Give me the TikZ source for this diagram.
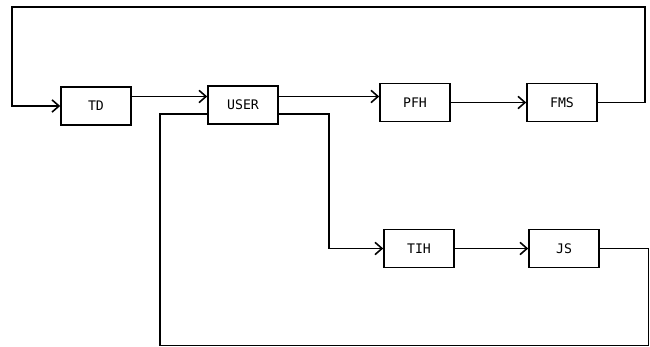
\documentclass[tikz,border=0pt]{standalone}
\usepackage{fontspec}
\newfontfamily\boxfont{DejaVu Sans Mono}
\usepackage{tikz}
\usetikzlibrary{arrows.meta}

\begin{document}
\begin{tikzpicture}[x=0.02cm, y=-0.02cm, line width=0.9pt,
    font=\boxfont\fontsize{7.5}{9}\selectfont,
    unit/.style={draw, minimum width=1.4cm, minimum height=0.76cm, inner sep=0pt},
    flow/.style={-{Straight Barb[length=4pt,width=7pt]}}]
    \useasboundingbox (0,0) rectangle (650,347);
    % units
    \node[unit] (td)   at (96,106)    {TD};
    \node[unit] (user) at (243,105)   {USER};
    \node[unit] (pfh)  at (415,102.5) {PFH};
    \node[unit] (fms)  at (562,102.5) {FMS};
    \node[unit] (tih)  at (419,248.5) {TIH};
    \node[unit] (js)   at (564,248.5) {JS};
    % corners and rows
    \coordinate (upper) at (0,96.5);
    \coordinate (lower) at (0,114);
    \coordinate (drop) at (329,114);
    \coordinate (topright) at (645,7);
    \coordinate (topleft) at (12,7);
    \coordinate (botright) at (648.5,345.5);
    \coordinate (botleft) at (160,345.5);
    % upper chain
    \draw[flow] (td.east |- upper) -- (user.west |- upper);
    \draw[flow] (user.east |- upper) -- (pfh.west |- upper);
    \draw[flow] (pfh) -- (fms);
    \draw[flow] (fms.east) -| (topright) -- (topleft) |- (td.west);
    % lower chain
    \draw[flow] (user.east |- lower) -- (drop) |- (tih.west);
    \draw[flow] (tih) -- (js);
    \draw (js.east) -| (botright) -- (botleft) |- (user.west |- lower);
\end{tikzpicture}
\end{document}
